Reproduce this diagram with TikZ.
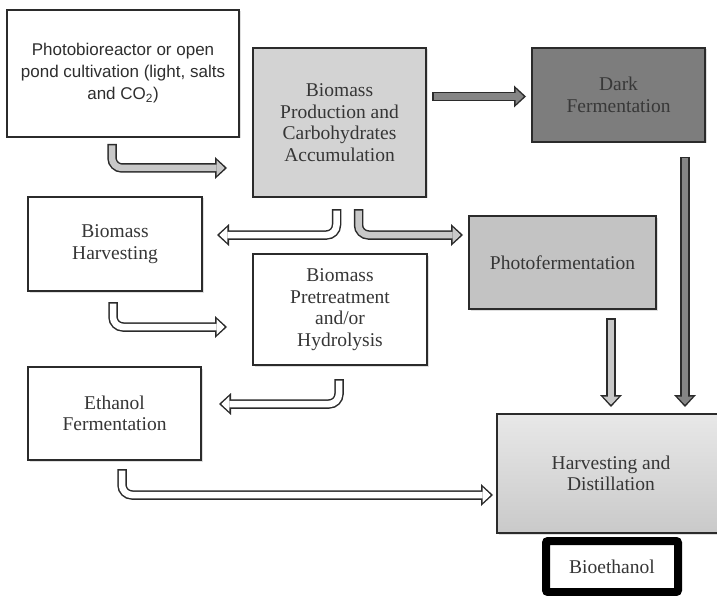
\documentclass[tikz,border=0pt]{standalone}
\usepackage{fontspec}
\setmainfont{Liberation Serif}
\newfontfamily\sansf{Liberation Sans}
\usetikzlibrary{arrows.meta,shadows}
\definecolor{edge}{HTML}{2B2B2B}
\definecolor{txt}{HTML}{363636}
\definecolor{lightbox}{HTML}{D3D3D3}
\definecolor{darkbox}{HTML}{7D7D7D}
\definecolor{photobox}{HTML}{C3C3C3}
\definecolor{lightarr}{HTML}{C8C8C8}
\definecolor{darkarr}{HTML}{858585}
\tikzset{
  box/.style={draw=edge, line width=1.3pt, rectangle, align=center, text=txt, fill=white,
    font=\fontsize{19.5}{21.5}\selectfont, inner sep=0pt},
  shad/.style={drop shadow={shadow xshift=1.5pt, shadow yshift=-1.5pt, opacity=0.25}},
  arrout/.style={line width=9.5pt, draw=edge, rounded corners=10pt,
    -{Triangle[length=12pt,width=22pt,line width=0pt]}},
  arrin/.style={line width=6.5pt, draw=#1, rounded corners=10pt, shorten >=2.3pt, shorten <=1.5pt,
    -{Triangle[length=8pt,width=15.2pt,line width=0pt]}},
}
\newcommand\fatarr[2]{\draw[arrout] #2; \draw[arrin=#1] #2;}
\begin{document}
\begin{tikzpicture}[x=1pt,y=-1pt]
\useasboundingbox (0,0) rectangle (717,596);

\node[box, shad, font=\sansf\fontsize{17}{22}\selectfont, text=black!82,
  minimum width=232pt, minimum height=127pt] (pbr) at (123,73.5)
  {Photobioreactor or open\\pond cultivation (light, salts\\and CO\textsubscript{2})};
\node[box, shad, fill=lightbox, minimum width=173pt, minimum height=149pt] (bpc) at (339.5,122.5)
  {Biomass\\Production and\\Carbohydrates\\Accumulation};
\node[box, shad, fill=darkbox, text=black!78, minimum width=173pt, minimum height=94pt] (dark) at (618.5,95)
  {Dark\\Fermentation};
\node[box, shad, minimum width=174pt, minimum height=94pt] (bh) at (115,244)
  {Biomass\\Harvesting};
\node[box, shad, minimum width=174pt, minimum height=111pt] (pre) at (340,309.5)
  {Biomass\\Pretreatment\\and/or\\Hydrolysis};
\node[box, shad, fill=photobox, minimum width=187pt, minimum height=93pt] (photo) at (562.5,262.5)
  {Photofermentation};
\node[box, shad, minimum width=173pt, minimum height=93pt] (ef) at (114.5,413.5)
  {Ethanol\\Fermentation};
\node[box, shad, top color=gray!18, bottom color=gray!42, minimum width=228pt, minimum height=119pt] (hd) at (611,473.5)
  {Harvesting and\\Distillation};
\node[box, draw=black, line width=8pt, rounded corners=2pt, minimum width=132pt, minimum height=51pt] (bio) at (612,566.5)
  {Bioethanol};

% arrow end points
\coordinate (a1s) at (112,144);   \coordinate (a1e) at (227,168);
\coordinate (a2s) at (432,96.5);  \coordinate (a2e) at (526,96.5);
\coordinate (a3s) at (336.5,209); \coordinate (a3e) at (217,235);
\coordinate (a4s) at (358.5,209); \coordinate (a4e) at (463,235);
\coordinate (a5s) at (113,302);   \coordinate (a5e) at (227,327);
\coordinate (a6s) at (339,379);   \coordinate (a6e) at (219,404);
\coordinate (a7s) at (122,469);   \coordinate (a7e) at (493,495);
\coordinate (a8s) at (611,318);   \coordinate (a8e) at (611,407);
\coordinate (a9s) at (685,157);   \coordinate (a9e) at (685,407);

\fatarr{lightarr}{(a1s) |- (a1e)}
\fatarr{darkarr}{(a2s) -- (a2e)}
\fatarr{white}{(a3s) |- (a3e)}
\fatarr{lightarr}{(a4s) |- (a4e)}
\fatarr{white}{(a5s) |- (a5e)}
\fatarr{white}{(a6s) |- (a6e)}
\fatarr{white}{(a7s) |- (a7e)}
\fatarr{lightarr}{(a8s) -- (a8e)}
\fatarr{darkarr}{(a9s) -- (a9e)}
\end{tikzpicture}
\end{document}
